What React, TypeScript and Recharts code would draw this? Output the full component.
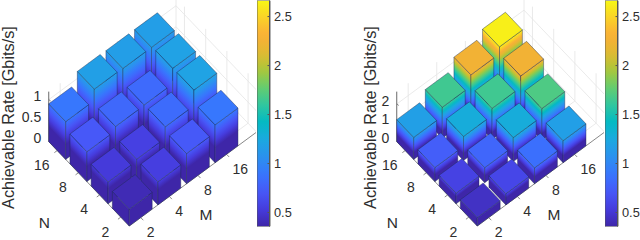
import React from 'react';
import { Bar, BarChart, Scatter, ScatterChart, XAxis, YAxis } from 'recharts';

const M_TICKS = ['2', '4', '8', '16'];
const N_TICKS = ['2', '4', '8', '16'];

// rows are N = 2, 4, 8, 16 and columns are M = 2, 4, 8, 16
const LEFT_RATES = [
  [0.4, 0.55, 0.72, 0.9],
  [0.52, 0.56, 0.83, 1.2],
  [0.71, 0.81, 0.82, 1.19],
  [0.9, 1.17, 1.16, 1.16],
];
const RIGHT_RATES = [
  [0.45, 0.6, 0.85, 1.17],
  [0.57, 0.8, 1.28, 1.7],
  [0.75, 1.28, 1.65, 2.25],
  [1.17, 1.65, 2.25, 2.62],
];
const LEFT_Z_TICKS = [0, 0.5, 1];
const RIGHT_Z_TICKS = [0, 1, 2];
const COLORBAR_TICKS = [0.5, 1, 1.5, 2, 2.5];

const C_MIN = 0.357;
const C_MAX = 2.664;
const FONT = '"Liberation Sans", Arial, sans-serif';
const TEXT_COLOR = '#2e2e2e';
const GRID_COLOR = '#e4e4e4';
const AXIS_COLOR = '#6a6a6a';

const PARULA = [
  [62, 38, 168], [70, 60, 222], [71, 88, 248], [56, 117, 254], [43, 145, 239], [28, 169, 224],
  [2, 186, 195], [49, 198, 159], [100, 205, 111], [171, 199, 57], [225, 185, 50], [250, 175, 55],
  [250, 210, 40], [248, 248, 20],
];

const parula = (t: number) => {
  const c = Math.min(1, Math.max(0, t)) * (PARULA.length - 1);
  const i = Math.min(PARULA.length - 2, Math.floor(c));
  const f = c - i;
  const rgb = PARULA[i].map((v, k) => Math.round(v + (PARULA[i + 1][k] - v) * f));
  return `rgb(${rgb.join(',')})`;
};
const rateColor = (v: number) => parula((v - C_MIN) / (C_MAX - C_MIN));

// oblique view of the 3d box: m and n count bar cells, z is in the chart's unit
const BAR_SIZE = 0.8;
const M_LIMIT = 4.45;
const N_LIMIT = 3.8;
const Z_TOP_PX = 50;

const makeProject = (zPx: number) => (m: number, n: number, z: number) => ({
  x: 129.3 + 28.6 * m - 21.2 * n,
  y: 226 - 21.1 * m - 22.2 * n - zPx * z,
});

const sideStops = (v: number) => {
  const stops: { offset: number; color: string }[] = [{ offset: 0, color: rateColor(0) }];
  const steps = 14;
  for (let i = 0; i <= steps; i++) {
    const z = C_MIN + ((v - C_MIN) * i) / steps;
    if (v > C_MIN) stops.push({ offset: z / v, color: rateColor(z) });
  }
  return stops;
};

const BarBlock = (props: any) => {
  const { cx, cy, payload } = props;
  const { m, n, v, id, zPx } = payload;
  const project = makeProject(zPx);
  const center = project(m + BAR_SIZE / 2, n + BAR_SIZE / 2, v);
  const at = (a: number, b: number, z: number) => {
    const p = project(a, b, z);
    return { x: p.x - center.x + cx, y: p.y - center.y + cy };
  };
  const path = (pts: { x: number; y: number }[]) =>
    pts.map((p, i) => `${i ? 'L' : 'M'}${p.x.toFixed(2)},${p.y.toFixed(2)}`).join('') + 'Z';

  const front = at(m, n, 0);
  const frontTop = at(m, n, v);
  const leftEnd = at(m, n + BAR_SIZE, 0);
  const rightEnd = at(m + BAR_SIZE, n, 0);
  const stops = sideStops(v);

  // colour follows height, so the gradient runs across the sheared bottom edge
  const gradientEnd = (edge: { x: number; y: number }) => {
    const dx = edge.x - front.x;
    const dy = edge.y - front.y;
    const len = Math.hypot(dx, dy);
    const nx = -dy / len;
    const ny = dx / len;
    const d = (frontTop.y - front.y) * ny;
    return { x: front.x + nx * d, y: front.y + ny * d };
  };
  const gradient = (gid: string, edge: { x: number; y: number }) => {
    const end = gradientEnd(edge);
    return (
      <linearGradient id={gid} gradientUnits="userSpaceOnUse" x1={front.x} y1={front.y} x2={end.x} y2={end.y}>
        {stops.map((s, i) => (
          <stop key={i} offset={s.offset} stopColor={s.color} />
        ))}
      </linearGradient>
    );
  };

  const edge = { stroke: '#1c2c4c', strokeOpacity: 0.6, strokeWidth: 0.7, strokeLinejoin: 'round' as const };
  return (
    <g>
      <defs>
        {gradient(`${id}-l`, leftEnd)}
        {gradient(`${id}-r`, rightEnd)}
      </defs>
      <path
        d={path([front, leftEnd, at(m, n + BAR_SIZE, v), frontTop])}
        fill={`url(#${id}-l)`}
        {...edge}
      />
      <path
        d={path([front, rightEnd, at(m + BAR_SIZE, n, v), frontTop])}
        fill={`url(#${id}-r)`}
        {...edge}
      />
      <path
        d={path([frontTop, at(m + BAR_SIZE, n, v), at(m + BAR_SIZE, n + BAR_SIZE, v), at(m, n + BAR_SIZE, v)])}
        fill={rateColor(v)}
        {...edge}
      />
    </g>
  );
};

const TextMark = (props: any) => {
  const { cx, cy, payload } = props;
  const { text, anchor, size, rotate } = payload;
  return (
    <text
      x={cx}
      y={cy}
      textAnchor={anchor}
      dominantBaseline="central"
      fontFamily={FONT}
      fontSize={size}
      fill={TEXT_COLOR}
      transform={rotate ? `rotate(${rotate} ${cx} ${cy})` : undefined}
    >
      {text}
    </text>
  );
};

const NoPoint = () => <g />;

interface PanelProps {
  id: string;
  rates: number[][];
  zTicks: number[];
  zPx: number;
  labelX: number;
  left: number;
}

const Panel: React.FC<PanelProps> = ({ id, rates, zTicks, zPx, labelX, left }) => {
  const project = makeProject(zPx);
  const zTop = Z_TOP_PX / zPx;

  const bars = rates
    .flatMap((row, n) =>
      row.map((v, m) => {
        const p = project(m + BAR_SIZE / 2, n + BAR_SIZE / 2, v);
        return { ...p, m, n, v, zPx, id: `${id}-${n}-${m}` };
      })
    )
    .sort((a, b) => b.m + b.n - (a.m + a.n));

  const segments: { from: any; to: any; color: string; width: number }[] = [];
  const add = (from: any, to: any, color = GRID_COLOR, width = 0.8) => segments.push({ from, to, color, width });

  // walls and floor
  M_TICKS.forEach((_, i) => {
    const m = i + BAR_SIZE / 2;
    add(project(m, N_LIMIT, 0), project(m, N_LIMIT, zTop));
    add(project(m, 0, 0), project(m, N_LIMIT, 0));
  });
  N_TICKS.forEach((_, i) => {
    const n = i + BAR_SIZE / 2;
    add(project(M_LIMIT, n, 0), project(M_LIMIT, n, zTop));
    add(project(0, n, 0), project(M_LIMIT, n, 0));
  });
  zTicks.slice(1).forEach((z) => {
    add(project(0, N_LIMIT, z), project(M_LIMIT, N_LIMIT, z));
    add(project(M_LIMIT, 0, z), project(M_LIMIT, N_LIMIT, z));
  });
  add(project(M_LIMIT, N_LIMIT, 0), project(M_LIMIT, N_LIMIT, zTop));
  add(project(M_LIMIT, 0, 0), project(M_LIMIT, N_LIMIT, 0));

  // box edges and tick marks
  add(project(0, 0, 0), project(M_LIMIT, 0, 0), AXIS_COLOR);
  add(project(0, 0, 0), project(0, N_LIMIT, 0), AXIS_COLOR);
  add(project(0, N_LIMIT, 0), project(0, N_LIMIT, zTop), '#444444');
  M_TICKS.forEach((_, i) => {
    add(project(i + BAR_SIZE / 2, 0, 0), project(i + BAR_SIZE / 2, -0.12, 0), AXIS_COLOR);
  });
  N_TICKS.forEach((_, i) => {
    add(project(0, i + BAR_SIZE / 2, 0), project(-0.1, i + BAR_SIZE / 2, 0), AXIS_COLOR);
  });
  zTicks.forEach((z) => {
    const p = project(0, N_LIMIT, z);
    add(p, { x: p.x + 2, y: p.y + 1.4 }, AXIS_COLOR);
  });

  const tickSize = 14;
  const labels = [
    ...M_TICKS.map((text, i) => {
      const p = project(i + BAR_SIZE / 2, 0, 0);
      return { x: p.x + 6, y: p.y + 14.5, text, anchor: 'start', size: tickSize };
    }),
    ...N_TICKS.map((text, i) => {
      const p = project(0, i + BAR_SIZE / 2, 0);
      return { x: p.x - 15.5, y: p.y + 14.5, text, anchor: 'middle', size: tickSize };
    }),
    ...zTicks.map((z) => {
      const p = project(0, N_LIMIT, z);
      return { x: p.x - 7.5, y: p.y - 3.4, text: String(z), anchor: 'end', size: tickSize };
    }),
    { ...project(1.79, -1.2, 0), text: 'M', anchor: 'middle', size: 15.5 },
    { ...project(-1.68, 1.74, 0), text: 'N', anchor: 'middle', size: 15.5 },
    { x: labelX, y: 117.5, text: 'Achievable Rate [Gbits/s]', anchor: 'middle', size: 16.3, rotate: -90 },
  ];

  return (
    <div style={{ position: 'absolute', left, top: 0 }}>
      <ScatterChart width={256} height={240} margin={{ top: 0, right: 0, bottom: 0, left: 0 }}>
        <XAxis type="number" dataKey="x" domain={[0, 256]} hide allowDataOverflow />
        <YAxis type="number" dataKey="y" domain={[0, 240]} reversed hide allowDataOverflow />
        {segments.map((s, i) => (
          <Scatter
            key={i}
            data={[s.from, s.to]}
            line={{ stroke: s.color, strokeWidth: s.width }}
            shape={NoPoint}
            isAnimationActive={false}
          />
        ))}
        <Scatter data={bars} shape={BarBlock} isAnimationActive={false} />
        <Scatter data={labels} shape={TextMark} isAnimationActive={false} />
      </ScatterChart>
    </div>
  );
};

const Colorbar: React.FC<{ id: string; left: number }> = ({ id, left }) => {
  const stops = Array.from({ length: 29 }, (_, i) => i / 28);
  return (
    <div style={{ position: 'absolute', left, top: 0 }}>
      <BarChart
        width={35}
        height={227}
        data={[{ name: 'rate', v: C_MAX }]}
        barCategoryGap={0}
        margin={{ top: 0.5, right: 0, bottom: 0.5, left: 0 }}
      >
        <defs>
          <linearGradient id={id} x1="0" y1="0" x2="0" y2="1">
            {stops.map((t) => (
              <stop key={t} offset={t} stopColor={parula(1 - t)} />
            ))}
          </linearGradient>
        </defs>
        <XAxis dataKey="name" hide />
        <YAxis
          orientation="right"
          width={22.5}
          domain={[C_MIN, C_MAX]}
          ticks={COLORBAR_TICKS}
          allowDataOverflow
          interval={0}
          tickSize={-2}
          tickMargin={6.5}
          stroke="#555555"
          tick={{ fill: TEXT_COLOR, fontSize: 12.8, fontFamily: FONT, textAnchor: 'start' }}
        />
        <Bar dataKey="v" fill={`url(#${id})`} stroke="#555555" strokeWidth={0.9} isAnimationActive={false} />
      </BarChart>
    </div>
  );
};

export default function App() {
  return (
    <div style={{ position: 'fixed', left: 0, top: 0, width: 640, height: 240, overflow: 'hidden', background: '#fff' }}>
      <Panel id="left" rates={LEFT_RATES} zTicks={LEFT_Z_TICKS} zPx={42} labelX={8} left={0} />
      <Colorbar id="cb-left" left={257} />
      <Panel id="right" rates={RIGHT_RATES} zTicks={RIGHT_Z_TICKS} zPx={18.8} labelX={21.5} left={347.5} />
      <Colorbar id="cb-right" left={605} />
    </div>
  );
}
